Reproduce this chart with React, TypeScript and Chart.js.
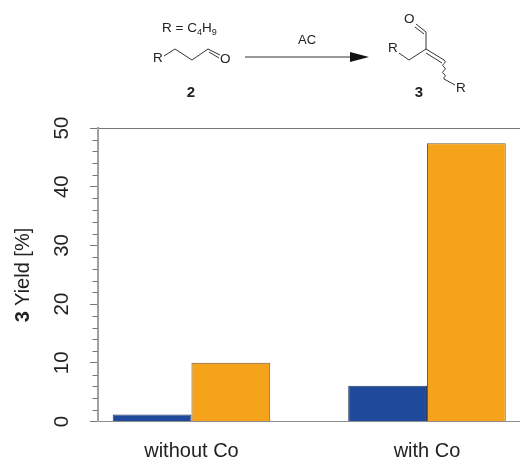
import React, { useEffect, useRef } from "react";
import { Chart, registerables } from "chart.js";

Chart.register(...registerables);

const categories = ["without Co", "with Co"];
const seriesBlue = [1.2, 6.1];
const seriesOrange = [10, 47.4];
const majorTicks = [0, 10, 20, 30, 40, 50];
const minorTicks = [2, 4, 6, 8, 12, 14, 16, 18, 22, 24, 26, 28, 32, 34, 36, 38, 42, 44, 46, 48];

const FONT = "'Liberation Sans', Arial, sans-serif";
const AXIS_GREY = "#8c8c8c";

const minorTickPlugin = {
  id: "minorTicks",
  afterDatasetsDraw(chart: any) {
    const { ctx, scales, chartArea } = chart;
    ctx.save();
    ctx.strokeStyle = "#777";
    ctx.lineWidth = 1;
    minorTicks.forEach((v) => {
      const y = Math.round(scales.y.getPixelForValue(v)) + 0.5;
      ctx.beginPath();
      ctx.moveTo(chartArea.left - 5, y);
      ctx.lineTo(chartArea.left, y);
      ctx.stroke();
    });
    ctx.restore();
  },
};

function Scheme() {
  const txt = { fontFamily: FONT, fill: "#222" } as const;
  const line = { stroke: "#333", strokeWidth: 1, fill: "none" } as const;
  return (
    <svg
      width={520}
      height={459}
      style={{ position: "absolute", left: 0, top: 0, pointerEvents: "none" }}
    >
      <text x={162} y={32} fontSize={13.5} {...txt}>
        R = C<tspan fontSize={9} dy={3}>4</tspan>
        <tspan dy={-3}>H</tspan>
        <tspan fontSize={9} dy={3}>9</tspan>
      </text>
      <text x={153} y={62} fontSize={13.5} {...txt}>R</text>
      <path d="M164 56 L175 49 L192 60 L208 49 L220 55" {...line} />
      <path d="M209 52 L219 58" {...line} />
      <text x={220} y={63} fontSize={13.5} {...txt}>O</text>
      <text x={191} y={97} fontSize={15} fontWeight="bold" textAnchor="middle" {...txt}>2</text>

      <path d="M245 57 L352 57" {...line} />
      <path d="M369 57 L350 52 L350 62 Z" fill="#111" />
      <text x={307} y={44} fontSize={13} textAnchor="middle" {...txt}>AC</text>

      <text x={404} y={23} fontSize={13.5} {...txt}>O</text>
      <path d="M416 24 L426 32 L426 49" {...line} />
      <path d="M415 27 L424 34" {...line} />
      <text x={388} y={52} fontSize={13.5} {...txt}>R</text>
      <path d="M399 53 L409 60 L426 49 L444 60" {...line} />
      <path d="M426 53 L442 63" {...line} />
      <path d="M444 60 q3 2 0 3.5 q-3 2 0 3.5 q3 2 0 3.5 q-3 2 0 3.5 q3 2 0 3.5 L444 79 L455 85" {...line} />
      <text x={456} y={92} fontSize={13.5} {...txt}>R</text>
      <text x={419} y={97} fontSize={15} fontWeight="bold" textAnchor="middle" {...txt}>3</text>

      <text
        transform="translate(29,275) rotate(-90)"
        fontSize={20}
        textAnchor="middle"
        {...txt}
      >
        <tspan fontWeight="bold">3</tspan> Yield [%]
      </text>
    </svg>
  );
}

export default function App() {
  const ref = useRef<HTMLCanvasElement>(null);

  useEffect(() => {
    const chart = new Chart(ref.current!, {
      type: "bar",
      data: {
        datasets: [
          {
            label: "blue",
            data: seriesBlue.map((y, x) => ({ x, y })),
            backgroundColor: "#1f4a9b",
            borderColor: "#2b3a5c",
            borderWidth: 1,
          },
          {
            label: "orange",
            data: seriesOrange.map((y, x) => ({ x, y })),
            backgroundColor: "#f5a31a",
            borderColor: "#6b5a3a",
            borderWidth: 1,
          },
        ],
      },
      options: {
        animation: false,
        responsive: false,
        layout: { padding: { top: 128, left: 0, right: 0, bottom: 0 } },
        plugins: { legend: { display: false }, tooltip: { enabled: false } },
        datasets: { bar: { categoryPercentage: 0.669, barPercentage: 1 } },
        scales: {
          x: {
            type: "linear",
            offset: false,
            min: -0.399,
            max: 1.395,
            grid: { display: false },
            border: { display: true, color: AXIS_GREY, width: 1 },
            ticks: {
              stepSize: 1,
              includeBounds: false,
              maxRotation: 0,
              padding: 10,
              color: "#222",
              font: { family: FONT, size: 20 },
              callback: (v: any) => categories[v] ?? "",
            },
            afterFit: (s: any) => {
              s.height = 37.5;
            },
          },
          y: {
            min: 0,
            max: 50,
            afterBuildTicks: (s: any) => {
              s.ticks = majorTicks.map((value) => ({ value }));
            },
            grid: {
              tickLength: 7.5,
              tickColor: "#777",
              color: (c: any) =>
                c.tick && (c.tick.value === 50 || c.tick.value === 0) ? "#777" : "transparent",
            },
            border: { display: true, color: "#a0a0a0", width: 2 },
            ticks: {
              minRotation: 90,
              maxRotation: 90,
              crossAlign: "center",
              padding: 16,
              color: "#222",
              font: { family: FONT, size: 20.5 },
            },
            afterFit: (s: any) => {
              s.width = 97.5;
            },
          },
        },
      } as any,
      plugins: [minorTickPlugin],
    });
    return () => chart.destroy();
  }, []);

  return (
    <div style={{ position: "absolute", left: 0, top: 0, width: 520, height: 459 }}>
      <canvas ref={ref} width={520} height={459} style={{ display: "block" }} />
      <Scheme />
    </div>
  );
}
